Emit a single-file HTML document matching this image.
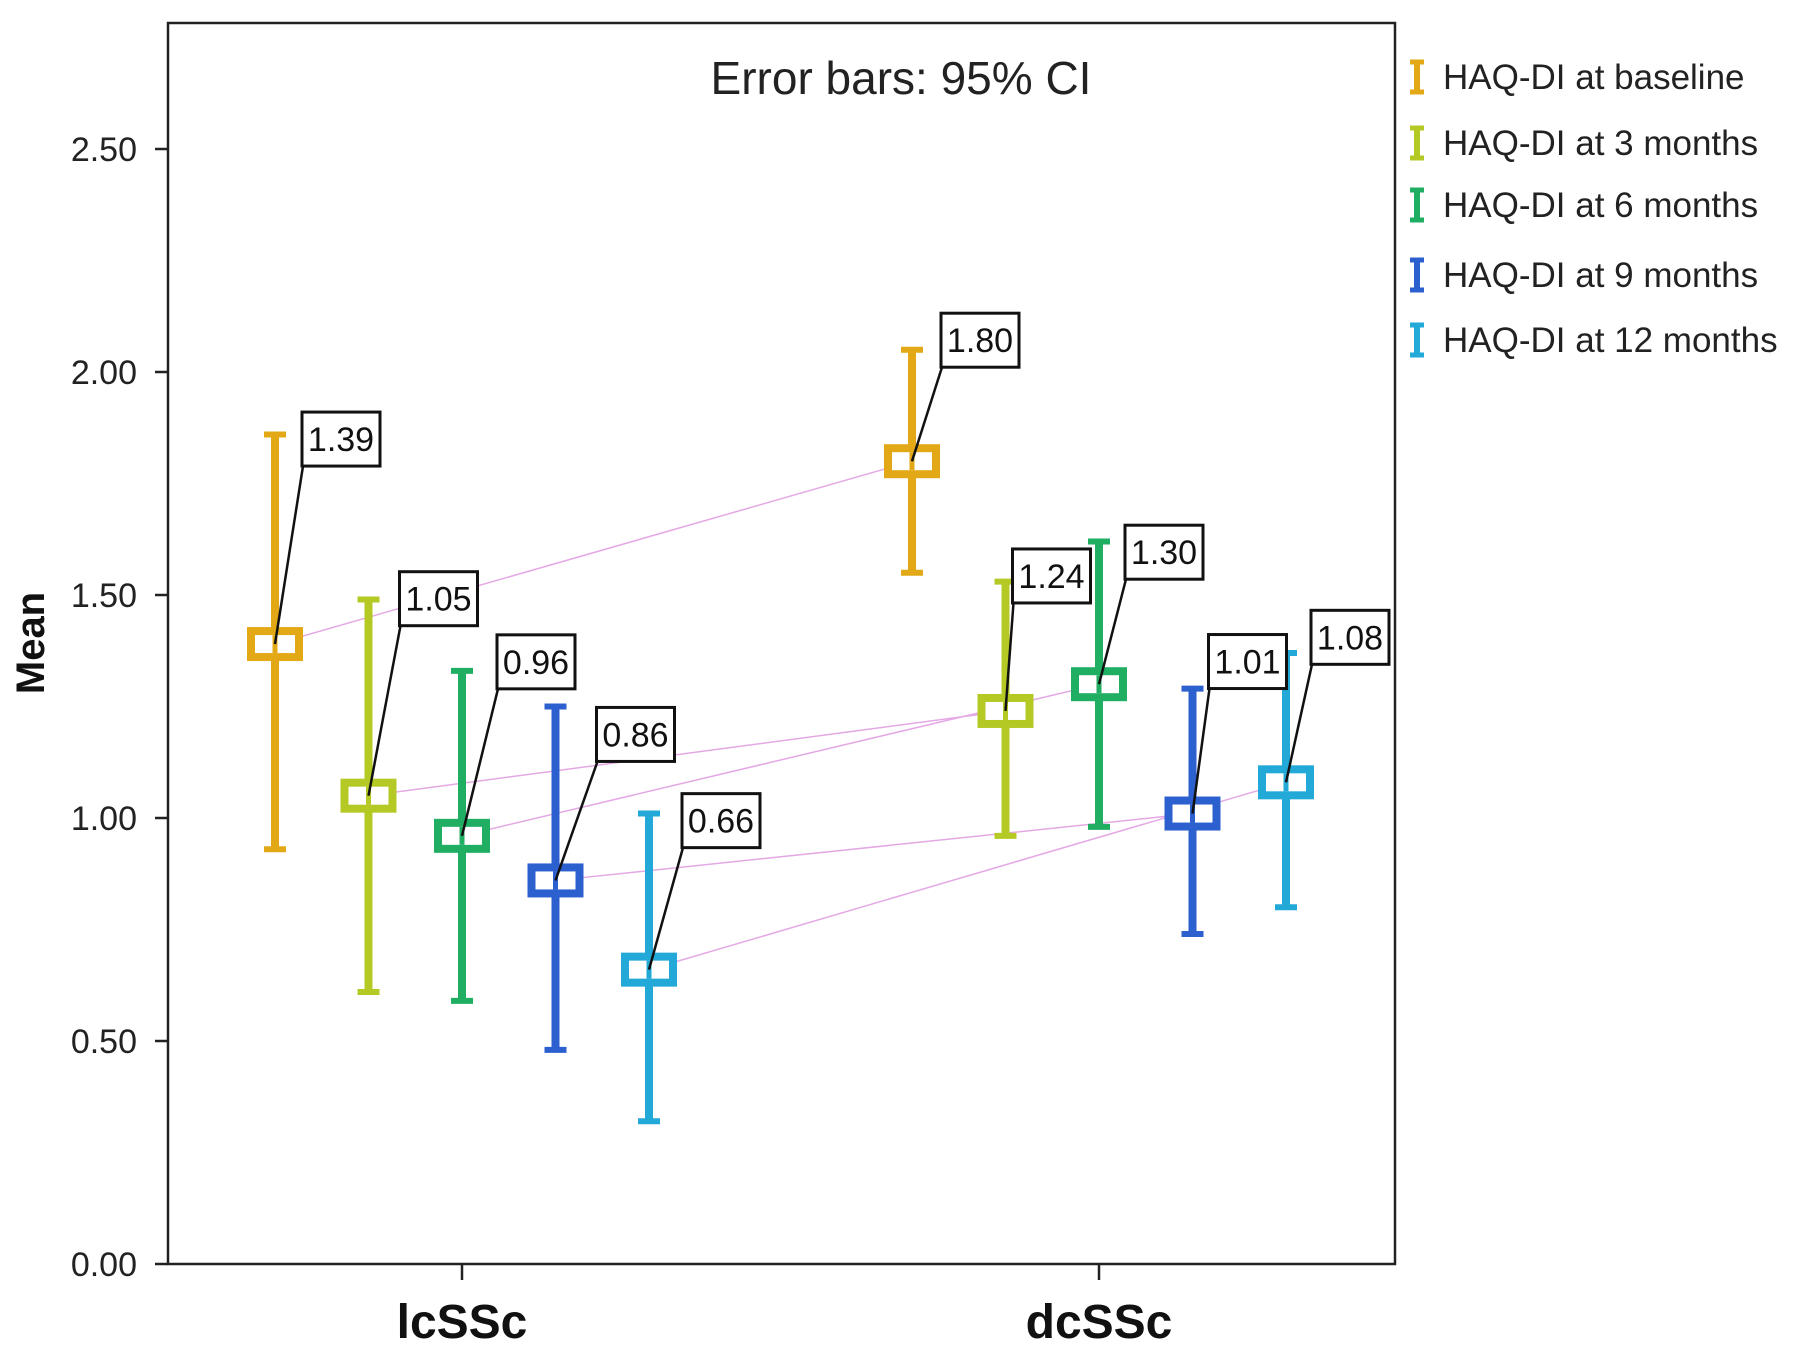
<!DOCTYPE html>
<html><head><meta charset="utf-8"><style>
body{margin:0;background:#fff;}
svg{display:block;font-family:"Liberation Sans",sans-serif;}
</style></head><body>
<svg id="chart" width="1795" height="1351" viewBox="0 0 1795 1351">
<rect x="0" y="0" width="1795" height="1351" fill="#fff"/>
<rect x="168" y="23" width="1227" height="1241" fill="none" stroke="#222" stroke-width="2.5"/>
<text x="901" y="94" font-size="46" text-anchor="middle" fill="#222">Error bars: 95% CI</text>
<text transform="translate(44,643) rotate(-90)" font-size="40" font-weight="bold" text-anchor="middle" fill="#111">Mean</text>
<g id="axes"></g>
<g id="links"></g>
<g id="marks"></g>
<g id="labels"></g>
<g id="legend"></g>
</svg>
<script>
const categories = ["lcSSc", "dcSSc"];
const seriesNames = ["HAQ-DI at baseline", "HAQ-DI at 3 months", "HAQ-DI at 6 months", "HAQ-DI at 9 months", "HAQ-DI at 12 months"];
const colors = ["#e2a816", "#b5c925", "#1fae62", "#2c60cf", "#22a9d8"];
const meansLc = [1.39, 1.05, 0.96, 0.86, 0.66];
const meansDc = [1.80, 1.24, 1.30, 1.01, 1.08];
const lowLc = [0.93, 0.61, 0.59, 0.48, 0.32];
const highLc = [1.86, 1.49, 1.33, 1.25, 1.01];
const lowDc = [1.55, 0.96, 0.98, 0.74, 0.80];
const highDc = [2.05, 1.53, 1.62, 1.29, 1.37];
const valueLabelsLc = ["1.39", "1.05", "0.96", "0.86", "0.66"];
const valueLabelsDc = ["1.80", "1.24", "1.30", "1.01", "1.08"];
const yTicks = [0, 0.5, 1.0, 1.5, 2.0, 2.5];
const yTickLabels = ["0.00", "0.50", "1.00", "1.50", "2.00", "2.50"];

const NS = "http://www.w3.org/2000/svg";
const plotBottom = 1264, pxPerUnit = 446;
function yScale(v){ return plotBottom - v * pxPerUnit; }
const catCenters = [462, 1099];
function xScale(ci, si){ return catCenters[ci] + (si - 2) * 93.5; }
function mk(tag, attrs, parent){ const e = document.createElementNS(NS, tag); for (const k in attrs) e.setAttribute(k, attrs[k]); parent.appendChild(e); return e; }

const axes = document.getElementById('axes');
yTicks.forEach((t, i) => {
  const y = yScale(t);
  const ln = mk('line', {x1:155, x2:168, y1:y, y2:y, stroke:'#222', 'stroke-width':2.5}, axes);
  
  
  const tx = mk('text', {x:137, y:y+12, 'font-size':34, 'text-anchor':'end', fill:'#222'}, axes);
  tx.textContent = yTickLabels[i];
  
  
});
categories.forEach((c, ci) => {
  const x = catCenters[ci];
  const ln = mk('line', {x1:x, x2:x, y1:1264, y2:1280, stroke:'#222', 'stroke-width':2.5}, axes);
  
  
  const tx = mk('text', {x:x, y:1338, 'font-size':48, 'font-weight':'bold', 'text-anchor':'middle', fill:'#111'}, axes);
  tx.textContent = c;
  
  
});

const links = document.getElementById('links');
seriesNames.forEach((s, si) => {
  const l = mk('line', {x1:xScale(0, si), y1:yScale(meansLc[si]), x2:xScale(1, si), y2:yScale(meansDc[si]), stroke:'#e4a8e4', 'stroke-width':1.5}, links);
  
  
});

const marks = document.getElementById('marks');
const labels = document.getElementById('labels');
const labelOffLc = [[66,-205],[70,-197],[74,-174],[80,-146],[72,-149]];
const labelOffDc = [[68,-121],[46,-135],[65,-132],[55,-152],[64,-145]];
function drawPoint(ci, si, mean, lo, hi, lab, off){
  const x = xScale(ci, si), col = colors[si];
  const g = mk('g', {}, marks);
  
  
  mk('line', {x1:x, x2:x, y1:yScale(hi), y2:yScale(lo), stroke:col, 'stroke-width':8}, g);
  mk('line', {x1:x-11, x2:x+11, y1:yScale(hi), y2:yScale(hi), stroke:col, 'stroke-width':6}, g);
  mk('line', {x1:x-11, x2:x+11, y1:yScale(lo), y2:yScale(lo), stroke:col, 'stroke-width':6}, g);
  const m = mk('rect', {x:x-24, y:yScale(mean)-13, width:48, height:26, fill:'#fff', stroke:col, 'stroke-width':8}, g);
  
  
  mk('line', {x1:x, x2:x, y1:yScale(mean)-9, y2:yScale(mean)+9, stroke:col, 'stroke-width':5}, g);
  const cx = x + off[0], cy = yScale(mean) + off[1];
  const lg = mk('g', {}, labels);
  
  
  mk('line', {x1:x, y1:yScale(mean), x2:cx-38, y2:cy+27, stroke:'#111', 'stroke-width':2.5}, lg);
  mk('rect', {x:cx-39, y:cy-27, width:78, height:54, fill:'#fff', stroke:'#111', 'stroke-width':3}, lg);
  const t = mk('text', {x:cx, y:cy+12, 'font-size':34, 'text-anchor':'middle', fill:'#111'}, lg);
  t.textContent = lab;
}
seriesNames.forEach((s, si) => {
  drawPoint(0, si, meansLc[si], lowLc[si], highLc[si], valueLabelsLc[si], labelOffLc[si]);
  drawPoint(1, si, meansDc[si], lowDc[si], highDc[si], valueLabelsDc[si], labelOffDc[si]);
});

const legend = document.getElementById('legend');
const legendY = [77, 143, 205, 275, 340];
seriesNames.forEach((s, si) => {
  const g = mk('g', {}, legend);
  
  
  const y = legendY[si], x = 1417, col = colors[si];
  mk('line', {x1:x, x2:x, y1:y-15, y2:y+15, stroke:col, 'stroke-width':6}, g);
  mk('line', {x1:x-7, x2:x+7, y1:y-15, y2:y-15, stroke:col, 'stroke-width':5}, g);
  mk('line', {x1:x-7, x2:x+7, y1:y+15, y2:y+15, stroke:col, 'stroke-width':5}, g);
  const t = mk('text', {x:1443, y:y+12, 'font-size':35, fill:'#222'}, g);
  t.textContent = s;
});
</script>
</body></html>
